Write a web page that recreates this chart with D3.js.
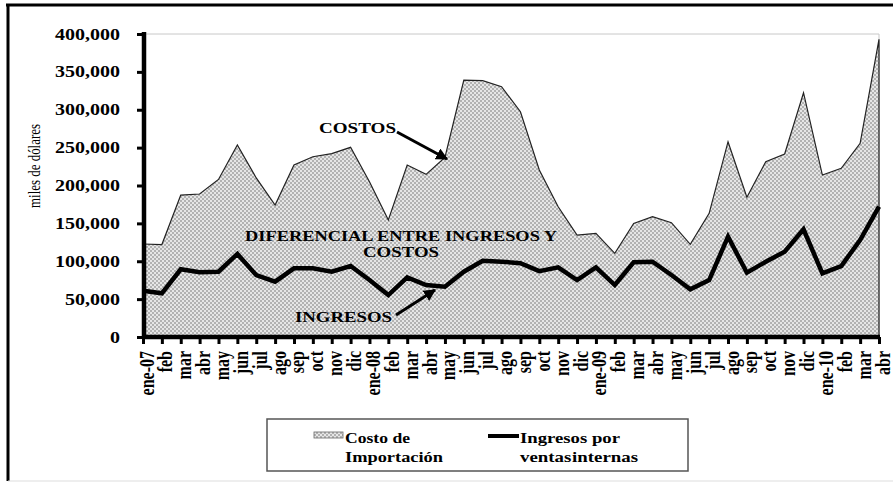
<!DOCTYPE html>
<html><head><meta charset="utf-8">
<script src="https://cdn.jsdelivr.net/npm/d3@7"></script>
<style>body{margin:0;background:#fff}svg{display:block}</style>
</head><body>
<script>
const months = ["ene-07","feb","mar","abr","may","jun","jul","ago","sep","oct","nov","dic",
  "ene-08","feb","mar","abr","may","jun","jul","ago","sep","oct","nov","dic",
  "ene-09","feb","mar","abr","may","jun","jul","ago","sep","oct","nov","dic",
  "ene-10","feb","mar","abr"];
const costos = [122800,122000,187400,188800,208000,253500,210000,174200,227000,238000,242000,250400,
  205000,154500,227000,214700,237200,339000,338400,330400,297400,220400,172000,134600,
  136900,110500,150000,158800,150900,122300,163300,257800,184400,231400,241600,322500,
  213800,222700,255700,393000];
const ingresos = [61100,57700,89400,85400,86200,109600,81800,73000,90600,90600,86200,93700,
  75200,55400,78800,68600,66400,86200,100700,99400,97500,87000,92000,75200,
  92000,68600,98600,99400,81800,63000,75200,132400,84900,99400,112600,142100,
  84000,93700,128000,172000];
const yTicks = [0,50000,100000,150000,200000,250000,300000,350000,400000];

const W = 893, H = 483, SX = 1.25;
const FONT = "'Liberation Serif','Times New Roman',serif";
const svg = d3.select("body").append("svg").attr("width", W).attr("height", H);

const defs = svg.append("defs");
const pat = defs.append("pattern").attr("id","chk").attr("width",4).attr("height",4)
  .attr("patternUnits","userSpaceOnUse");
pat.append("rect").attr("width",4).attr("height",4).attr("fill","#e6e6e6");
pat.append("rect").attr("width",2).attr("height",2).attr("fill","#b2b2b2");
pat.append("rect").attr("x",2).attr("y",2).attr("width",2).attr("height",2).attr("fill","#b2b2b2");
defs.append("marker").attr("id","arr").attr("viewBox","0 0 10 10").attr("refX",9).attr("refY",5)
  .attr("markerWidth",4).attr("markerHeight",4).attr("orient","auto")
  .append("path").attr("d","M0,0L10,5L0,10z").attr("fill","#000");

// outer frame
svg.append("line").attr("x1",6).attr("x2",W).attr("y1",5).attr("y2",5).attr("stroke","#000").attr("stroke-width",3);
svg.append("line").attr("x1",8).attr("x2",8).attr("y1",4).attr("y2",481).attr("stroke","#000").attr("stroke-width",3);
svg.append("line").attr("x1",8).attr("x2",W).attr("y1",481).attr("y2",481).attr("stroke","#ddd").attr("stroke-width",1);

const x0 = 143, x1 = 879, yTop = 34, yBot = 337;
const x = d3.scalePoint().domain(d3.range(months.length)).range([x0, x1]);
const y = d3.scaleLinear().domain([0, 400000]).range([yBot, yTop]);

// plot area border (light)
svg.append("path").attr("d",`M${x0+3},${yTop}H${x1}V${yBot}`).attr("fill","none")
  .attr("stroke","#c8c8c8").attr("stroke-width",1);

// area
const area = d3.area().x((d,i)=>x(i)).y0(yBot).y1(d=>y(d));
svg.append("path").datum(costos).attr("d",area).attr("fill","url(#chk)");
svg.append("path").datum(costos)
  .attr("d", d3.line().x((d,i)=>x(i)).y(d=>y(d))(costos) + `L${x(costos.length-1)},${yBot}`)
  .attr("fill","none").attr("stroke","#222").attr("stroke-width",1.2);

// income line
svg.append("path").datum(ingresos).attr("d", d3.line().x((d,i)=>x(i)).y(d=>y(d)))
  .attr("fill","none").attr("stroke","#000").attr("stroke-width",4.5).attr("stroke-linejoin","miter");

// helper for stretched text
function stext(g, tx, ty, str, opts) {
  const grp = g.append("g").attr("transform", `translate(${tx},${ty}) scale(${SX},1)` + (opts.rot ? " rotate(-90)" : ""));
  const t = grp.append("text").text(str)
    .attr("font-family", FONT).attr("font-size", opts.size || 15)
    .attr("font-weight", opts.weight || "bold")
    .attr("text-anchor", opts.anchor || "start")
    .attr("fill", "#000");
  if (opts.dy) t.attr("dy", opts.dy);
  if (opts.len) t.attr("textLength", opts.len / SX).attr("lengthAdjust","spacingAndGlyphs");
  if (opts.ws) t.attr("word-spacing", opts.ws);
  return t;
}

// y axis
const yAxis = svg.append("g").attr("transform",`translate(${x0},0)`)
  .call(d3.axisLeft(y).tickValues(yTicks).tickSize(6).tickFormat(""));
yAxis.select(".domain").remove();
yAxis.selectAll("line").attr("stroke","#000").attr("stroke-width",3);
svg.append("line").attr("x1",x0+1).attr("x2",x0+1).attr("y1",yTop-2).attr("y2",yBot+2)
  .attr("stroke","#000").attr("stroke-width",4.5);
const fmt = d3.format(",");
yTicks.forEach(v => stext(svg, 120, y(v), fmt(v), {size:16, anchor:"end", dy:"0.35em"}));

// x axis
const xAxis = svg.append("g").attr("transform",`translate(0,${yBot})`)
  .call(d3.axisBottom(x).tickSize(7).tickFormat(""));
xAxis.select(".domain").remove();
xAxis.selectAll("line").attr("stroke","#000").attr("stroke-width",3);
svg.append("line").attr("x1",x0-1).attr("x2",x1+1).attr("y1",yBot).attr("y2",yBot)
  .attr("stroke","#000").attr("stroke-width",4.5);
months.forEach((m,i) => stext(svg, x(i)+10.5, 351, m, {size:16, anchor:"end", rot:true}));

// y title
stext(svg, 40, 166, "miles de dólares", {size:14, weight:"normal", anchor:"middle", rot:true, len:105});

// annotations
stext(svg, 319, 133, "COSTOS", {size:15, len:77});
svg.append("line").attr("x1",397).attr("y1",132).attr("x2",447).attr("y2",159)
  .attr("stroke","#000").attr("stroke-width",3).attr("marker-end","url(#arr)");
stext(svg, 401, 241, "DIFERENCIAL ENTRE INGRESOS Y", {size:15, anchor:"middle", len:312});
stext(svg, 401, 257, "COSTOS", {size:15, anchor:"middle", len:76});
stext(svg, 295, 322, "INGRESOS", {size:15, len:97});
svg.append("line").attr("x1",396).attr("y1",315).attr("x2",435).attr("y2",290)
  .attr("stroke","#000").attr("stroke-width",3).attr("marker-end","url(#arr)");

// legend
const lg = svg.append("g");
lg.append("rect").attr("x",267).attr("y",419).attr("width",421).attr("height",52)
  .attr("fill","#fff").attr("stroke","#555").attr("stroke-width",1.5);
lg.append("rect").attr("x",314).attr("y",432).attr("width",29).attr("height",6)
  .attr("fill","url(#chk)").attr("stroke","#666").attr("stroke-width",0.8);
stext(lg, 345, 443, "Costo de", {size:14, len:65});
stext(lg, 345, 462, "Importación", {size:14, len:98});
lg.append("line").attr("x1",488).attr("x2",519).attr("y1",436).attr("y2",436)
  .attr("stroke","#000").attr("stroke-width",4);
stext(lg, 520, 443, "Ingresos por", {size:14, len:100});
stext(lg, 520, 462, "ventas internas", {size:14, len:118, ws:-3});
</script>
</body></html>
